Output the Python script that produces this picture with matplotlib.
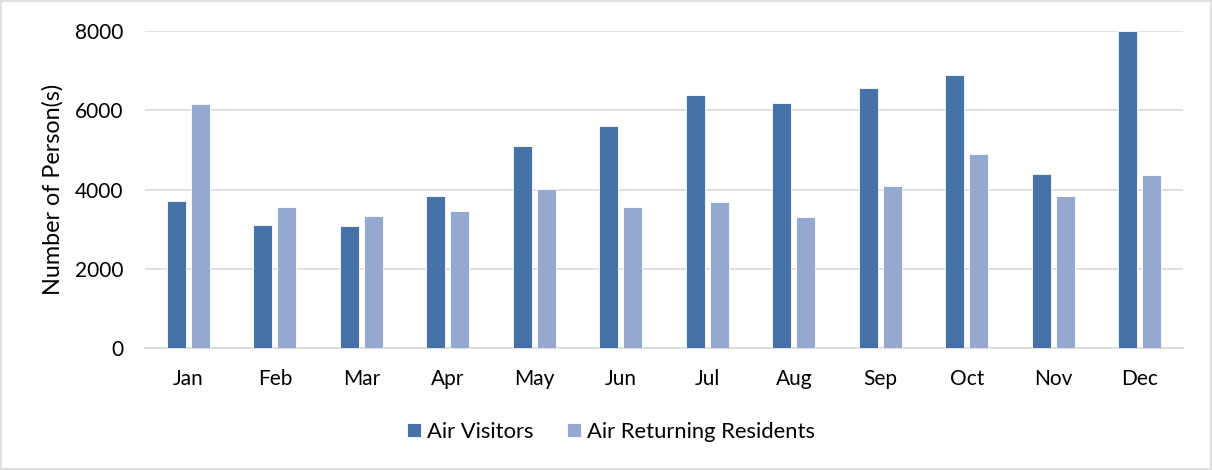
import numpy as np
import matplotlib
matplotlib.use('Agg')
import matplotlib.pyplot as plt
from matplotlib.patches import Rectangle

months = ['Jan', 'Feb', 'Mar', 'Apr', 'May', 'Jun',
          'Jul', 'Aug', 'Sep', 'Oct', 'Nov', 'Dec']
air_visitors = [3700, 3100, 3090, 3845, 5090, 5610, 6390, 6180, 6550, 6900, 4400, 8000]
air_returning = [6150, 3560, 3330, 3450, 4005, 3550, 3690, 3300, 4080, 4890, 3840, 4360]
yticks = [0, 2000, 4000, 6000, 8000]

plt.rcParams['font.family'] = ['Lato', 'DejaVu Sans']

dark = '#4672A8'
light = '#95A9D0'
fs = 15

fig = plt.figure(figsize=(12.12, 4.70), dpi=100)
ax = fig.add_axes([0.1198, 0.2596, 0.8562, 0.6744])

x = np.arange(len(months))
w = 0.22
off = 0.138
ax.bar(x - off, air_visitors, w, color=dark, edgecolor='white', linewidth=0.6,
       label='Air Visitors', zorder=3)
ax.bar(x + off, air_returning, w, color=light, edgecolor='white', linewidth=0.6,
       label='Air Returning Residents', zorder=3)

ax.set_xlim(-0.5, 11.5)
ax.set_ylim(0, 8000)
ax.set_yticks(yticks)
ax.set_yticklabels([str(v) for v in yticks])
ax.set_xticks(x)
ax.set_xticklabels(months)
ax.tick_params(axis='both', length=0, labelsize=fs, colors='black')
ax.tick_params(axis='y', pad=15.5)
ax.tick_params(axis='x', pad=15)
ax.grid(axis='y', color='#D9D9D9', linewidth=1.2, zorder=0)
for s in ['top', 'right', 'left']:
    ax.spines[s].set_visible(False)
ax.spines['bottom'].set_color('#D9D9D9')
ax.spines['bottom'].set_linewidth(1.2)

ax.set_ylabel('Number of Person(s)', fontsize=16.8, labelpad=8)

fig.legend(loc='center', bbox_to_anchor=(0.504, 0.081), ncol=2, frameon=False,
           fontsize=15.8, handlelength=0.64, handleheight=0.64, handletextpad=0.3,
           columnspacing=1.5)

fig.patches.append(Rectangle((0.001, 0.002), 0.998, 0.996, transform=fig.transFigure,
                             fill=False, edgecolor='#D9D9D9', linewidth=1.2))

fig.savefig('out.png', dpi=100)
